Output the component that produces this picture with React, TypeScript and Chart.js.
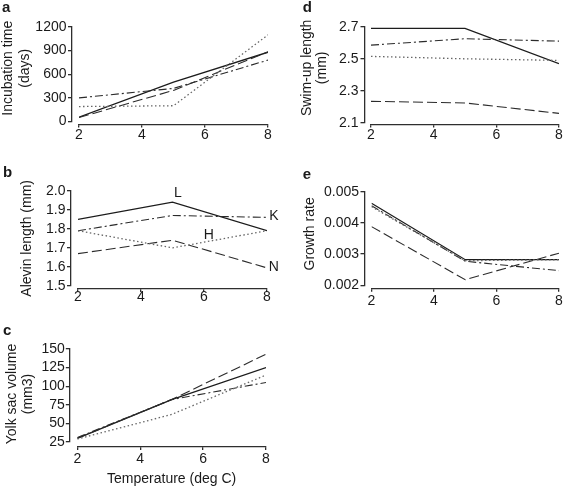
import React, { useEffect, useRef } from 'react';
import { Chart, registerables } from 'chart.js';

Chart.register(...registerables);

// ---------- data ----------
const temps = [2, 5, 8];
const xTickValues = [2, 4, 6, 8];

// a: Incubation time (days)
const incubL = [55, 500, 880];
const incubK = [300, 420, 780];
const incubH = [190, 200, 1100];
const incubN = [50, 395, 885];
const incubTicks = [0, 300, 600, 900, 1200];

// b: Alevin length (mm)
const alevinL = [1.85, 1.94, 1.79];
const alevinK = [1.79, 1.87, 1.86];
const alevinH = [1.79, 1.7, 1.79];
const alevinN = [1.67, 1.74, 1.595];
const alevinTicks = [1.5, 1.6, 1.7, 1.8, 1.9, 2.0];
const alevinLabelText = ['L', 'K', 'H', 'N'];
const alevinLabelX = [5.17, 8.22, 6.15, 8.22];
const alevinLabelY = [1.988, 1.867, 1.768, 1.6];

// c: Yolk sac volume (mm3)
const yolkL = [30, 82, 125];
const yolkK = [31, 82, 105];
const yolkH = [29, 62, 115];
const yolkN = [30, 82, 143];
const yolkTicks = [25, 50, 75, 100, 125, 150];

// d: Swim-up length (mm)
const swimL = [2.69, 2.69, 2.47];
const swimK = [2.585, 2.625, 2.61];
const swimH = [2.515, 2.5, 2.49];
const swimN = [2.235, 2.225, 2.16];
const swimTicks = [2.1, 2.3, 2.5, 2.7];

// e: Growth rate
const growthL = [0.00463, 0.00282, 0.00282];
const growthK = [0.00455, 0.00277, 0.00247];
const growthH = [0.00452, 0.00279, 0.00282];
const growthN = [0.00388, 0.00218, 0.00303];
const growthTicks = [0.002, 0.003, 0.004, 0.005];

// ---------- styles ----------
const FONT = '"Liberation Sans", Arial, Helvetica, sans-serif';
const TEXT = '#1a1a1a';
const AXIS = '#2e2e2e';
const AXIS_W = 1.3;
const lineStyles: Record<string, { color: string; width: number; dash: number[] }> = {
  L: { color: '#1c1c1c', width: 1.3, dash: [] },
  K: { color: '#2b2b2b', width: 1.1, dash: [8, 3, 2, 3] },
  H: { color: '#666666', width: 1.3, dash: [1.5, 2.5] },
  N: { color: '#2b2b2b', width: 1.1, dash: [10, 4] },
};

type PanelDef = {
  key: string;
  letter: string;
  letterX: number;
  letterY: number;
  rect: { left: number; top: number; width: number; height: number };
  area: { left: number; right: number; top: number; bottom: number };
  yMin: number;
  yMax: number;
  yTicks: number[];
  decimals: number;
  yTitle: string[];
  yTitleX: number[];
  yTitleDy: number;
  yGap: number;
  xGap: number;
  xPad: number;
  xTitle?: string;
  series: { style: string; values: number[] }[];
  labels?: { text: string; x: number; y: number }[];
};

const panels: PanelDef[] = [
  {
    key: 'a', letter: 'a', letterX: 2, letterY: 12,
    rect: { left: 0, top: 0, width: 290, height: 160 },
    area: { left: 79, right: 268, top: 27, bottom: 121.5 },
    yMin: 0, yMax: 1200, yTicks: incubTicks, decimals: 0,
    yTitle: ['Incubation time', '(days)'], yTitleX: [8, 25], yTitleDy: -6,
    yGap: 7, xGap: 3, xPad: 5.1,
    series: [
      { style: 'H', values: incubH }, { style: 'K', values: incubK },
      { style: 'N', values: incubN }, { style: 'L', values: incubL },
    ],
  },
  {
    key: 'b', letter: 'b', letterX: 3, letterY: 16.7,
    rect: { left: 0, top: 160, width: 290, height: 160 },
    area: { left: 78, right: 267, top: 30.7, bottom: 126 },
    yMin: 1.5, yMax: 2.0, yTicks: alevinTicks, decimals: 1,
    yTitle: ['Alevin length (mm)'], yTitleX: [27], yTitleDy: 0,
    yGap: 7, xGap: 3, xPad: 3,
    series: [
      { style: 'H', values: alevinH }, { style: 'K', values: alevinK },
      { style: 'N', values: alevinN }, { style: 'L', values: alevinL },
    ],
    labels: alevinLabelText.map((t, i) => ({ text: t, x: alevinLabelX[i], y: alevinLabelY[i] })),
  },
  {
    key: 'c', letter: 'c', letterX: 3, letterY: 15,
    rect: { left: 0, top: 320, width: 290, height: 168 },
    area: { left: 77.3, right: 266, top: 29, bottom: 122 },
    yMin: 25, yMax: 150, yTicks: yolkTicks, decimals: 0,
    yTitle: ['Yolk sac volume', '(mm3)'], yTitleX: [12.2, 28.3], yTitleDy: -1.5,
    yGap: 7.5, xGap: 5, xPad: 8.6,
    xTitle: 'Temperature (deg C)',
    series: [
      { style: 'H', values: yolkH }, { style: 'K', values: yolkK },
      { style: 'N', values: yolkN }, { style: 'L', values: yolkL },
    ],
  },
  {
    key: 'd', letter: 'd', letterX: 12.7, letterY: 11.7,
    rect: { left: 290, top: 0, width: 275, height: 160 },
    area: { left: 81, right: 269, top: 26.7, bottom: 123 },
    yMin: 2.1, yMax: 2.7, yTicks: swimTicks, decimals: 1,
    yTitle: ['Swim-up length', '(mm)'], yTitleX: [16.7, 32.5], yTitleDy: -7,
    yGap: 6.5, xGap: 1.5, xPad: 3.6,
    series: [
      { style: 'H', values: swimH }, { style: 'K', values: swimK },
      { style: 'N', values: swimN }, { style: 'L', values: swimL },
    ],
  },
  {
    key: 'e', letter: 'e', letterX: 12.7, letterY: 19.3,
    rect: { left: 290, top: 160, width: 275, height: 160 },
    area: { left: 81.5, right: 269, top: 31.7, bottom: 125.3 },
    yMin: 0.002, yMax: 0.005, yTicks: growthTicks, decimals: 3,
    yTitle: ['Growth rate'], yTitleX: [20], yTitleDy: -4.6,
    yGap: 7, xGap: 3.5, xPad: 7.6,
    series: [
      { style: 'H', values: growthH }, { style: 'K', values: growthK },
      { style: 'N', values: growthN }, { style: 'L', values: growthL },
    ],
  },
];

const X_TICK_LEN = 3;
const Y_TICK_LEN = 4;

function drawTexts(chart: any, p: PanelDef) {
  const ctx = chart.ctx;
  const ca = chart.chartArea;
  const xs = chart.scales.x;
  const ys = chart.scales.y;
  ctx.save();
  ctx.fillStyle = TEXT;
  ctx.font = `14px ${FONT}`;
  ctx.textAlign = 'center';
  ctx.textBaseline = 'middle';
  const cy = (ca.top + ca.bottom) / 2 + p.yTitleDy;
  p.yTitle.forEach((line, i) => {
    ctx.save();
    ctx.translate(p.yTitleX[i], cy);
    ctx.rotate(-Math.PI / 2);
    ctx.fillText(line, 0, 0);
    ctx.restore();
  });
  (p.labels || []).forEach((l) => {
    ctx.fillText(l.text, xs.getPixelForValue(l.x), ys.getPixelForValue(l.y));
  });
  ctx.font = `bold 15px ${FONT}`;
  ctx.textAlign = 'left';
  ctx.textBaseline = 'alphabetic';
  ctx.fillText(p.letter, p.letterX, p.letterY);
  ctx.restore();
}

function Panel({ p }: { p: PanelDef }) {
  const ref = useRef<HTMLCanvasElement | null>(null);
  useEffect(() => {
    if (!ref.current) return;
    const tickFont = { family: FONT, size: 14 };
    const decor = {
      id: 'decor' + p.key,
      afterDraw(chart: any) {
        drawTexts(chart, p);
      },
    };
    const hiddenSpacer = {
      grid: { display: false, drawTicks: false },
      border: { display: false },
      ticks: { display: false },
    };
    const axisGrid = {
      display: true,
      drawOnChartArea: false,
      drawTicks: true,
      color: AXIS,
      lineWidth: AXIS_W,
    };
    const chart = new Chart(ref.current, {
      type: 'line',
      data: {
        datasets: p.series.map((s) => ({
          label: s.style,
          data: temps.map((t, i) => ({ x: t, y: s.values[i] })),
          borderColor: lineStyles[s.style].color,
          borderWidth: lineStyles[s.style].width,
          borderDash: lineStyles[s.style].dash,
          pointRadius: 0,
          fill: false,
          tension: 0,
        })),
      },
      options: {
        responsive: false,
        devicePixelRatio: 1,
        animation: false,
        layout: {
          padding: { left: 0, top: p.area.top, right: p.rect.width - p.area.right, bottom: 0 },
        },
        plugins: {
          legend: { display: false },
          tooltip: { enabled: false },
        },
        scales: {
          // data scales, also used as the small gap between plot and axes
          x: {
            type: 'linear',
            position: 'bottom',
            weight: 0,
            min: 2,
            max: 8,
            ...hiddenSpacer,
            afterFit: (s: any) => {
              s.height = p.xGap;
            },
          },
          y: {
            type: 'linear',
            position: 'left',
            weight: 0,
            min: p.yMin,
            max: p.yMax,
            ...hiddenSpacer,
            afterFit: (s: any) => {
              s.width = p.yGap;
            },
          },
          // visible, offset axes
          xAxis: {
            type: 'linear',
            position: 'bottom',
            weight: 1,
            min: 2,
            max: 8,
            afterBuildTicks: (s: any) => {
              s.ticks = xTickValues.map((v) => ({ value: v }));
            },
            afterFit: (s: any) => {
              s.height = p.rect.height - p.area.bottom - p.xGap;
            },
            grid: { ...axisGrid, tickLength: X_TICK_LEN },
            border: { display: true, color: AXIS, width: AXIS_W },
            ticks: {
              padding: p.xPad - p.xGap - X_TICK_LEN,
              font: tickFont,
              color: TEXT,
              maxRotation: 0,
              autoSkip: false,
              callback: (v: any) => String(v),
            },
            title: p.xTitle
              ? { display: true, text: p.xTitle, font: tickFont, color: TEXT, padding: { top: 0, bottom: 0 } }
              : { display: false },
          },
          yAxis: {
            type: 'linear',
            position: 'left',
            weight: 1,
            min: p.yMin,
            max: p.yMax,
            afterBuildTicks: (s: any) => {
              s.ticks = p.yTicks.map((v) => ({ value: v }));
            },
            afterFit: (s: any) => {
              s.width = p.area.left - p.yGap;
            },
            grid: { ...axisGrid, tickLength: Y_TICK_LEN },
            border: { display: true, color: AXIS, width: AXIS_W },
            ticks: {
              padding: Math.max(0, 12.5 - p.yGap - Y_TICK_LEN),
              font: tickFont,
              color: TEXT,
              autoSkip: false,
              callback: (v: any) => Number(v).toFixed(p.decimals),
            },
          },
        },
      } as any,
      plugins: [decor],
    });
    return () => chart.destroy();
  }, [p]);
  return (
    <canvas
      ref={ref}
      width={p.rect.width}
      height={p.rect.height}
      style={{
        position: 'absolute',
        left: p.rect.left,
        top: p.rect.top,
        width: p.rect.width,
        height: p.rect.height,
      }}
    />
  );
}

export default function App() {
  return (
    <div style={{ position: 'absolute', left: 0, top: 0, width: 565, height: 488, background: '#fff' }}>
      {panels.map((p) => (
        <Panel key={p.key} p={p} />
      ))}
    </div>
  );
}
